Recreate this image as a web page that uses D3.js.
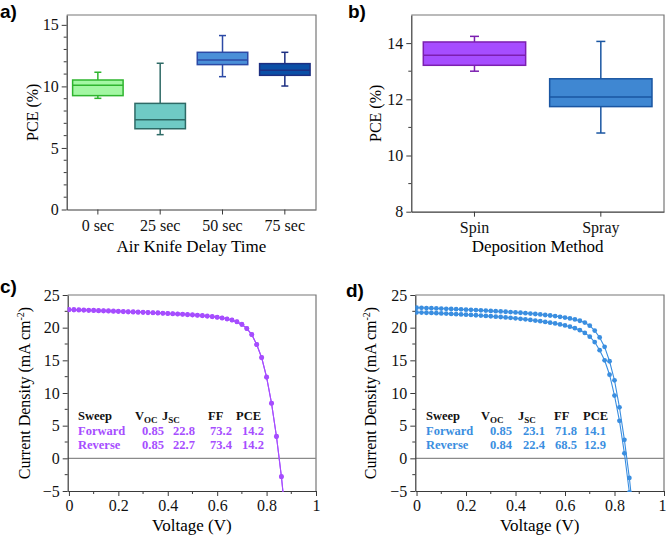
<!DOCTYPE html>
<html><head><meta charset="utf-8">
<script src="https://cdn.jsdelivr.net/npm/d3@7"></script>
<style>
html,body{margin:0;padding:0;background:#fff;}
svg{font-family:"Liberation Serif","Times New Roman",serif;}
svg text{font-family:"Liberation Serif","Times New Roman",serif;}
svg text.plabel{font-family:"Liberation Sans",Arial,sans-serif;}
</style>
</head><body>
<svg id="c" width="666" height="537"></svg>
<script>
// ---------- DATA ----------
const delayCats = ["0 sec","25 sec","50 sec","75 sec"];
const delayMin  = [9.03, 6.08, 10.79, 10.03];
const delayQ1   = [9.25, 6.56, 11.77, 10.90];
const delayMed  = [10.09, 7.30, 12.15, 11.31];
const delayQ3   = [10.52, 8.62, 12.77, 11.85];
const delayMax  = [11.15, 11.88, 14.13, 12.77];
const delayFill = ["#a3f7a3","#6fcac5","#4a8fd8","#0b4fa6"];
const delayLine = ["#2fb52f","#2e6a66","#2c4aa6","#1d2f82"];

const methodCats = ["Spin","Spray"];
const methodMin  = [13.00, 10.80];
const methodQ1   = [13.21, 11.74];
const methodMed  = [13.57, 12.08];
const methodQ3   = [14.04, 12.73];
const methodMax  = [14.24, 14.06];
const methodFill = ["#a64dff","#3f87d2"];
const methodLine = ["#7c1fb0","#1a56a2"];

const voltage = [0.00,0.02,0.04,0.06,0.08,0.10,0.12,0.14,0.16,0.18,0.20,0.22,0.24,0.26,0.28,0.30,0.32,0.34,0.36,0.38,0.40,0.42,0.44,0.46,0.48,0.50,0.52,0.54,0.56,0.58,0.60,0.62,0.64,0.66,0.68,0.70,0.72,0.74,0.76,0.78,0.80,0.82,0.84,0.86,0.88];
const spinForward = [22.80,22.78,22.75,22.72,22.70,22.67,22.64,22.62,22.59,22.56,22.53,22.50,22.47,22.44,22.41,22.38,22.35,22.31,22.28,22.24,22.20,22.16,22.12,22.08,22.03,21.98,21.92,21.86,21.79,21.71,21.62,21.50,21.36,21.18,20.92,20.52,19.88,18.96,17.42,15.43,12.45,8.45,3.38,-2.77,-10.2];
const spinReverse = [22.72,22.70,22.67,22.65,22.62,22.60,22.57,22.55,22.52,22.49,22.46,22.43,22.40,22.37,22.34,22.31,22.28,22.25,22.22,22.18,22.14,22.10,22.06,22.02,21.97,21.92,21.87,21.81,21.74,21.66,21.57,21.46,21.32,21.14,20.88,20.48,19.85,18.93,17.40,15.40,12.40,8.40,3.30,-2.85,-10.3];
const sprayForward = [23.05,23.03,23.00,22.98,22.95,22.92,22.89,22.86,22.83,22.80,22.76,22.73,22.69,22.65,22.61,22.57,22.53,22.48,22.44,22.39,22.34,22.28,22.22,22.16,22.09,22.02,21.94,21.86,21.77,21.66,21.54,21.41,21.26,21.06,20.78,20.30,19.55,18.50,17.06,14.86,11.94,7.80,2.83,-3.00,-10.0];
const sprayReverse = [22.34,22.31,22.28,22.25,22.22,22.18,22.15,22.11,22.07,22.03,21.99,21.95,21.90,21.85,21.80,21.75,21.69,21.63,21.57,21.50,21.43,21.35,21.27,21.18,21.09,20.99,20.88,20.77,20.65,20.50,20.34,20.15,19.92,19.62,19.20,18.62,17.80,16.55,15.00,12.80,9.60,5.74,0.77,-5.20,-11.0];

const spinTable = [["Forward","0.85","22.8","73.2","14.2"],["Reverse","0.85","22.7","73.4","14.2"]];
const sprayTable = [["Forward","0.85","23.1","71.8","14.1"],["Reverse","0.84","22.4","68.5","12.9"]];

// ---------- DRAW ----------
const svg = d3.select("#c");
const axisColor = "#3a3a3a";
const frameColor = "#777";

function styleAxis(g){
  g.attr("font-family",null);
  g.selectAll(".domain").attr("stroke", axisColor).attr("stroke-width",1.2);
  g.selectAll(".tick line").attr("stroke", axisColor).attr("stroke-width",1);
  g.selectAll(".tick text").attr("fill","#111").attr("font-size","16px");
}

function frame(x0,x1,y0,y1){
  svg.append("path").attr("d",`M${x0},${y0}H${x1}V${y1}`).attr("fill","none").attr("stroke",frameColor).attr("stroke-width",1.2);
}

function minorY(y, x0, ticks, len){
  svg.append("g").selectAll("line").data(ticks).join("line")
    .attr("x1",x0).attr("x2",x0-len).attr("y1",d=>y(d)).attr("y2",d=>y(d))
    .attr("stroke",axisColor).attr("stroke-width",1);
}
function minorX(x, y0, ticks, len){
  svg.append("g").selectAll("line").data(ticks).join("line")
    .attr("y1",y0).attr("y2",y0+len).attr("x1",d=>x(d)).attr("x2",d=>x(d))
    .attr("stroke",axisColor).attr("stroke-width",1);
}

function panelLabel(txt,x,y){
  svg.append("text").attr("class","plabel").attr("x",x).attr("y",y).text(txt)
    .attr("font-weight","bold").attr("font-size","19px");
}

function boxPanel(cats, mins, q1s, meds, q3s, maxs, fills, lines, xr, yr, ydom, yticks, yminor, capW, xTitle, xTitleY, yTitleX){
  const x = d3.scaleBand().domain(cats).range(xr).paddingInner(0.19).paddingOuter(0.095);
  const y = d3.scaleLinear().domain(ydom).range(yr);
  frame(xr[0], xr[1], yr[1], yr[0]);
  minorY(y, xr[0], yminor, 3);
  const gy = svg.append("g").attr("transform",`translate(${xr[0]},0)`).call(d3.axisLeft(y).tickValues(yticks).tickFormat(d3.format("d")).tickSize(5).tickPadding(3).tickSizeOuter(0));
  styleAxis(gy);
  const gx = svg.append("g").attr("transform",`translate(0,${yr[0]})`).call(d3.axisBottom(x).tickSize(5).tickPadding(5).tickSizeOuter(0));
  styleAxis(gx);
  cats.forEach((c,i)=>{
    const cx = x(c)+x.bandwidth()/2;
    const g = svg.append("g");
    g.append("line").attr("x1",cx).attr("x2",cx).attr("y1",y(maxs[i])).attr("y2",y(q3s[i])).attr("stroke",lines[i]).attr("stroke-width",1.5);
    g.append("line").attr("x1",cx).attr("x2",cx).attr("y1",y(q1s[i])).attr("y2",y(mins[i])).attr("stroke",lines[i]).attr("stroke-width",1.5);
    g.append("line").attr("x1",cx-capW/2).attr("x2",cx+capW/2).attr("y1",y(maxs[i])).attr("y2",y(maxs[i])).attr("stroke",lines[i]).attr("stroke-width",1.5);
    g.append("line").attr("x1",cx-capW/2).attr("x2",cx+capW/2).attr("y1",y(mins[i])).attr("y2",y(mins[i])).attr("stroke",lines[i]).attr("stroke-width",1.5);
    g.append("rect").attr("x",x(c)).attr("width",x.bandwidth()).attr("y",y(q3s[i])).attr("height",y(q1s[i])-y(q3s[i]))
      .attr("fill",fills[i]).attr("stroke",lines[i]).attr("stroke-width",1.5);
    g.append("line").attr("x1",x(c)).attr("x2",x(c)+x.bandwidth()).attr("y1",y(meds[i])).attr("y2",y(meds[i])).attr("stroke",lines[i]).attr("stroke-width",1.5);
  });
  svg.append("text").attr("x",(xr[0]+xr[1])/2).attr("y",xTitleY).attr("text-anchor","middle").attr("font-size","17px").text(xTitle);
  svg.append("text").attr("transform",`translate(${yTitleX},${(yr[0]+yr[1])/2}) rotate(-90)`).attr("text-anchor","middle").attr("font-size","16px").text("PCE (%)");
}

boxPanel(delayCats, delayMin, delayQ1, delayMed, delayQ3, delayMax, delayFill, delayLine,
  [66.7,316],[209.5,15],[0,15.8],[0,5,10,15],[1,2,3,4,6,7,8,9,11,12,13,14],7,
  "Air Knife Delay Time", 252, 38);
boxPanel(methodCats, methodMin, methodQ1, methodMed, methodQ3, methodMax, methodFill, methodLine,
  [411.3,664],[211.7,15],[8,15],[8,10,12,14],[9,11,13],9,
  "Deposition Method", 252, 381);

panelLabel("a)",0,18);
panelLabel("b)",348,18);
panelLabel("c)",0,293);
panelLabel("d)",346,297);

function jvPanel(fwd, rev, color, xr, tableX, tableRows, yTitleX, clipId, edgeLast){
  const yr = [491,295];
  const x = d3.scaleLinear().domain([-0.005,1]).range(xr);
  const y = d3.scaleLinear().domain([-5,25]).range(yr);
  frame(xr[0], xr[1], yr[1], yr[0]);
  svg.append("line").attr("x1",xr[0]).attr("x2",xr[1]).attr("y1",y(0)).attr("y2",y(0)).attr("stroke","#8a8a8a").attr("stroke-width",1.2);
  minorY(y, xr[0], [-2.5,2.5,7.5,12.5,17.5,22.5], 3);
  minorX(x, yr[0], [0.1,0.3,0.5,0.7,0.9], 3);
  const gy = svg.append("g").attr("transform",`translate(${xr[0]},0)`).call(d3.axisLeft(y).tickValues([-5,0,5,10,15,20,25]).tickSize(5).tickPadding(3).tickSizeOuter(0));
  styleAxis(gy);
  const gx = svg.append("g").attr("transform",`translate(0,${yr[0]})`).call(d3.axisBottom(x).tickValues([0,0.2,0.4,0.6,0.8,1]).tickFormat(d=>d===0?"0":(d===1?"1":d3.format(".1f")(d))).tickSize(5).tickPadding(4).tickSizeOuter(0));
  styleAxis(gx);
  if(edgeLast){
    gx.selectAll(".tick text").filter(d=>d===1).attr("text-anchor","end").attr("dx","2");
  }
  svg.append("clipPath").attr("id",clipId).append("rect").attr("x",xr[0]).attr("y",yr[1]).attr("width",xr[1]-xr[0]).attr("height",yr[0]-yr[1]+1);
  const g = svg.append("g").attr("clip-path",`url(#${clipId})`);
  const line = d3.line().x((d,i)=>x(voltage[i])).y(d=>y(d));
  [fwd, rev].forEach(series=>{
    g.append("path").datum(series).attr("d",line).attr("fill","none").attr("stroke",color).attr("stroke-width",1.1);
    g.selectAll(null).data(series).join("circle").attr("cx",(d,i)=>x(voltage[i])).attr("cy",d=>y(d)).attr("r",2.4).attr("fill",color);
  });
  const colX = tableX;
  const rowY = [420,434.5,449];
  const t = svg.append("g").attr("font-weight","bold").attr("font-size","12.5px");
  t.append("text").attr("x",colX[0]).attr("y",rowY[0]).attr("fill","#111").text("Sweep");
  const v = t.append("text").attr("x",colX[1]).attr("y",rowY[0]).attr("fill","#111");
  v.append("tspan").text("V");
  v.append("tspan").attr("font-size","9px").attr("dy",3).text("OC");
  const j = t.append("text").attr("x",colX[2]).attr("y",rowY[0]).attr("fill","#111");
  j.append("tspan").text("J");
  j.append("tspan").attr("font-size","9px").attr("dy",3).text("SC");
  t.append("text").attr("x",colX[3]).attr("y",rowY[0]).attr("fill","#111").text("FF");
  t.append("text").attr("x",colX[4]).attr("y",rowY[0]).attr("fill","#111").text("PCE");
  tableRows.forEach((row,ri)=>{
    row.forEach((cell,ci)=>{
      t.append("text").attr("x",ci===0?colX[0]:colX[5+ci-1]).attr("y",rowY[ri+1]).attr("fill",color).text(cell);
    });
  });
  svg.append("text").attr("x",(xr[0]+xr[1])/2).attr("y",531).attr("text-anchor","middle").attr("font-size","17px").text("Voltage (V)");
  const yt = svg.append("text").attr("transform",`translate(${yTitleX},${(yr[0]+yr[1])/2}) rotate(-90)`).attr("text-anchor","middle").attr("font-size","16px");
  yt.append("tspan").text("Current Density (mA cm");
  yt.append("tspan").attr("font-size","10px").attr("dy",-6).text("-2");
  yt.append("tspan").attr("dy",6).text(")");
}

jvPanel(spinForward, spinReverse, "#a64dff", [67.7,316], [78,135,162,208,236, 142,173,210,242], spinTable, 30, "clipc", false);
jvPanel(sprayForward, sprayReverse, "#3a8ee0", [415.3,664], [426,481,518,554,583, 490,523,555,584], sprayTable, 376, "clipd", true);
</script>
</body></html>
